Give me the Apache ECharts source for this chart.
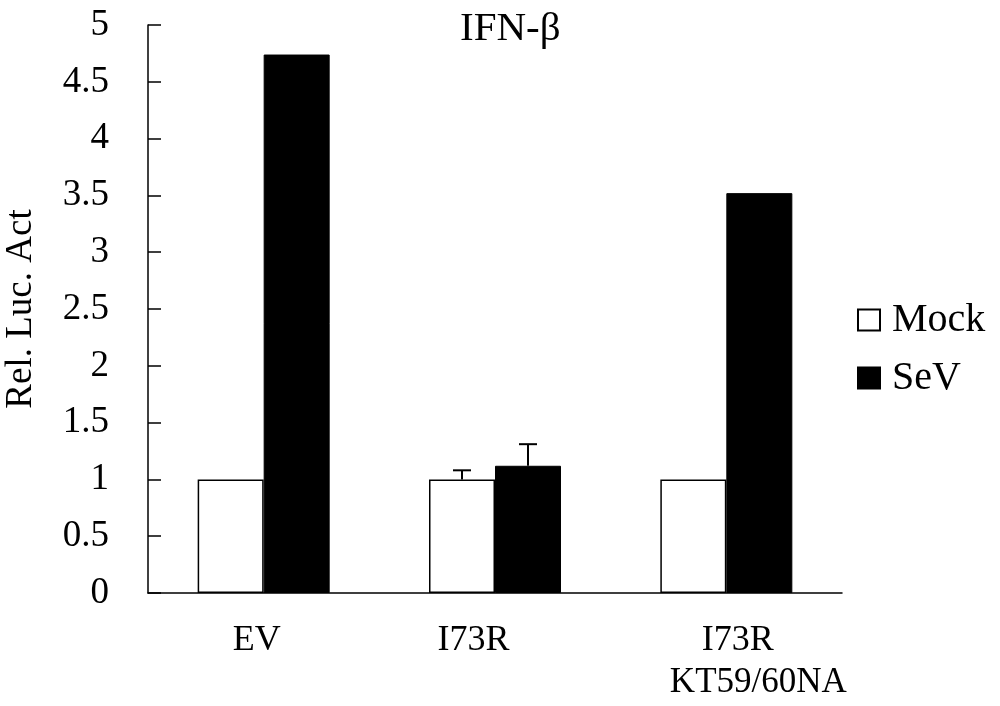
<!DOCTYPE html>
<html>
<head>
<meta charset="utf-8">
<title>IFN-β</title>
<script src="https://cdn.jsdelivr.net/npm/echarts@6/dist/echarts.min.js"></script>
<style>
html, body { margin: 0; padding: 0; background: #fff; }
#chart { width: 1000px; height: 706px; }
</style>
</head>
<body>
<div id="chart"></div>
<script>
// values
var categories = ['EV', 'I73R', 'I73R\nKT59/60NA']
var mockValues = [1.0, 1.0, 1.0]
var sevValues = [4.74, 1.12, 3.52]
var mockErr = [0, 0.08, 0]
var sevErr = [0, 0.19, 0]
var seriesNames = ['Mock', 'SeV']

var font = 'Liberation Serif, Times New Roman, serif'
var barW = 66

var chart = echarts.init(document.getElementById('chart'))

function errBars (errs, side) {
  var data = []
  for (var i = 0; i < errs.length; i++) {
    var v = side < 0 ? mockValues[i] : sevValues[i]
    data.push([i, v, errs[i]])
  }
  return {
    type: 'custom',
    z: 5,
    silent: true,
    renderItem: function (params, api) {
      var err = api.value(2)
      if (!err) return
      var base = api.coord([api.value(0), api.value(1)])
      var top = api.coord([api.value(0), api.value(1) + err])
      var x = base[0] + side * barW / 2
      var cap = 9
      var st = { stroke: '#000', lineWidth: 2 }
      return {
        type: 'group',
        children: [
          { type: 'line', shape: { x1: x, y1: base[1], x2: x, y2: top[1] }, style: st },
          { type: 'line', shape: { x1: x - cap, y1: top[1], x2: x + cap, y2: top[1] }, style: st }
        ]
      }
    },
    data: data
  }
}

// the labels in the original sit a little off the category centres
var lab = { fontFamily: font, fontSize: 36, lineHeight: 42, color: '#000' }
var xRich = {
  a: Object.assign({}, lab, { padding: [0, 14, 0, 0] }),
  b: Object.assign({}, lab, { padding: [0, 43, 0, 0] }),
  c: Object.assign({}, lab, { padding: [0, 0, 0, 23] }),
  d: Object.assign({}, lab, { fontSize: 35, padding: [0, 0, 0, 64] })
}

var option = {
  backgroundColor: '#fff',
  animation: false,
  title: {
    text: 'IFN-β',
    left: 455,
    top: 4,
    textStyle: { fontFamily: font, fontSize: 41, fontWeight: 'normal', color: '#000' }
  },
  legend: {
    data: seriesNames,
    orient: 'vertical',
    left: 852,
    top: 295,
    icon: 'rect',
    itemWidth: 22,
    itemHeight: 21,
    itemGap: 18,
    textStyle: { fontFamily: font, fontSize: 40, color: '#000', padding: [0, 0, 0, 7] }
  },
  grid: {
    left: 148,
    right: 158,
    top: 25,
    bottom: 113,
    outerBoundsMode: 'none'
  },
  xAxis: {
    type: 'category',
    data: categories,
    axisLine: { lineStyle: { color: '#000', width: 1.5 } },
    axisTick: { inside: true, length: 12, lineStyle: { color: '#000', width: 1.5 } },
    axisLabel: {
      margin: 27,
      formatter: function (value, idx) {
        if (idx === 0) return '{a|' + value + '}'
        if (idx === 1) return '{b|' + value + '}'
        var parts = value.split('\n')
        return '{c|' + parts[0] + '}\n{d|' + parts[1] + '}'
      },
      rich: xRich
    },
    splitLine: { show: false }
  },
  yAxis: {
    type: 'value',
    min: 0,
    max: 5,
    interval: 0.5,
    name: 'Rel. Luc. Act',
    nameLocation: 'middle',
    nameGap: 108,
    nameTextStyle: { fontFamily: font, fontSize: 37, color: '#000' },
    axisLine: { show: true, lineStyle: { color: '#000', width: 1.5 } },
    axisTick: { show: true, inside: true, length: 13, lineStyle: { color: '#000', width: 1.5 } },
    axisLabel: {
      margin: 39,
      fontFamily: font,
      fontSize: 37,
      color: '#000'
    },
    splitLine: { show: false }
  },
  series: [
    {
      name: seriesNames[0],
      type: 'bar',
      barWidth: barW,
      barGap: '0%',
      itemStyle: { color: '#fff', borderColor: '#000', borderWidth: 1.5 },
      data: mockValues
    },
    {
      name: seriesNames[1],
      type: 'bar',
      barWidth: barW,
      barGap: '0%',
      itemStyle: { color: '#000', borderColor: '#000', borderWidth: 1 },
      data: sevValues
    },
    errBars(mockErr, -1),
    errBars(sevErr, 1)
  ]
}

chart.setOption(option)
</script>
</body>
</html>
